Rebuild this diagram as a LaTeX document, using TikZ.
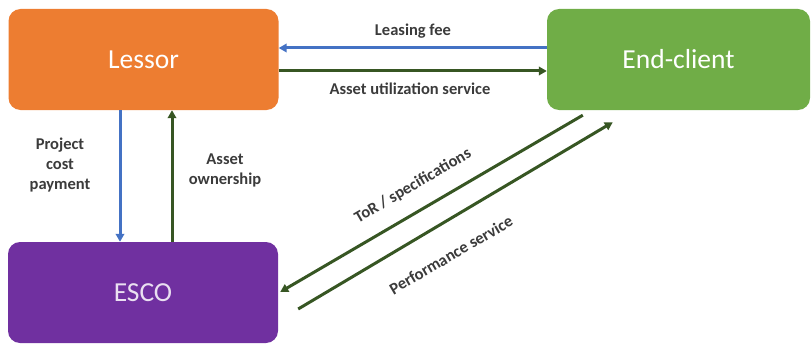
\documentclass[tikz,border=0pt]{standalone}
\usepackage{fontspec}
\setmainfont{Carlito}
\usetikzlibrary{arrows.meta,calc}
\definecolor{lessorC}{HTML}{ED7D31}
\definecolor{clientC}{HTML}{70AD47}
\definecolor{escoC}{HTML}{7030A0}
\definecolor{payC}{HTML}{4472C4}
\definecolor{servC}{HTML}{375623}
\definecolor{labelC}{HTML}{3B3B3B}
\begin{document}
\begin{tikzpicture}[x=1pt,y=-1pt,
  party/.style={rectangle, rounded corners=12pt, minimum width=270pt, minimum height=101pt,
    inner sep=0pt, text=white, font=\fontsize{27.5}{32}\selectfont},
  flow/.style={line width=3pt, -{Triangle[length=8pt,width=8.5pt]}},
  money/.style={flow, draw=payC},
  service/.style={flow, draw=servC},
  lbl/.style={font=\bfseries\fontsize{16.5}{19}\selectfont, text=labelC, align=center, inner sep=0pt}]
  \useasboundingbox (0,0) rectangle (811,345);

  % the three parties
  \node[party, fill=lessorC] (lessor) at (143.5,59.5) {Lessor};
  \node[party, fill=clientC, minimum width=263pt] (client) at (678.5,59.5) {End-client};
  \node[party, fill=escoC, text=white!85!escoC] (esco) at (143,292.5) {ESCO};

  % lessor <-> end-client
  \draw[money] ($(client.west)+(0,-11.5)$) -- ($(lessor.east)+(0,-11.5)$);
  \draw[service] ($(lessor.east)+(0,11.5)$) -- ($(client.west)+(0,11.5)$);
  \node[lbl] (fee) at (413,31) {Leasing fee};
  \node[lbl] (util) at (410,89) {Asset utilization service};

  % lessor <-> ESCO
  \draw[money] ($(lessor.south)+(-23.5,0)$) -- ($(esco.north)+(-23,0)$);
  \draw[service] ($(esco.north)+(29,0)$) -- ($(lessor.south)+(28.5,0)$);
  \node[lbl] (cost) at (60,165) {Project\\[1pt]cost\\[1pt]payment};
  \node[lbl] (own) at (225,170) {Asset\\[1pt]ownership};

  % end-client <-> ESCO
  \coordinate (torS) at ($(client.south west)+(36,5)$);
  \coordinate (torE) at ($(esco.east)+(2,-0.5)$);
  \coordinate (perfS) at ($(esco.east)+(20,16.5)$);
  \coordinate (perfE) at ($(client.south west)+(66,12)$);
  \draw[service] (torS) -- (torE);
  \draw[service] (perfS) -- (perfE);
  \node[lbl, rotate=30.3] (tor) at (413,186) {ToR / specifications};
  \node[lbl, rotate=30.3] (perf) at (451,255) {Performance service};
\end{tikzpicture}
\end{document}
